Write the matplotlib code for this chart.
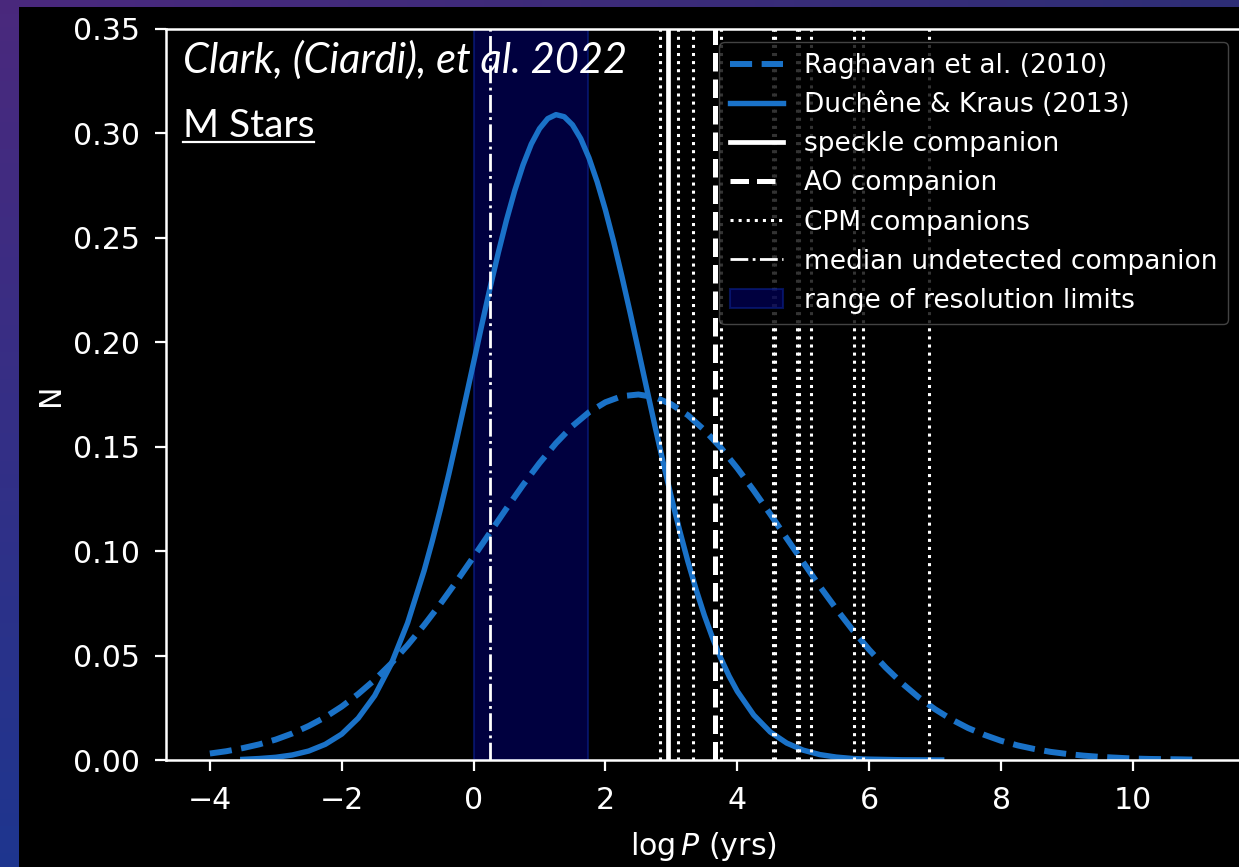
import numpy as np
import matplotlib
matplotlib.use("Agg")
import matplotlib.pyplot as plt
from matplotlib.lines import Line2D
from matplotlib.patches import Rectangle

# log-period distributions, values (log P in years)
raghavan_x = [-4.0, -3.75, -3.5, -3.25, -3.0, -2.75, -2.5, -2.25, -2.0, -1.75,
              -1.5, -1.25, -1.0, -0.75, -0.5, -0.25, 0.0, 0.25, 0.5, 0.75,
              1.0, 1.25, 1.5, 1.75, 2.0, 2.25, 2.5, 2.75, 3.0, 3.25, 3.5,
              3.75, 4.0, 4.25, 4.5, 4.75, 5.0, 5.25, 5.5, 5.75, 6.0, 6.25,
              6.5, 6.75, 7.0, 7.25, 7.5, 7.75, 8.0, 8.25, 8.5, 8.75, 9.0,
              9.25, 9.5, 9.75, 10.0, 10.25, 10.5, 10.75, 10.9]
raghavan_n = [0.0031, 0.0042, 0.0057, 0.0075, 0.0098, 0.0127, 0.0163, 0.0205,
              0.0256, 0.0316, 0.0384, 0.0462, 0.0550, 0.0646, 0.0749, 0.0859,
              0.0973, 0.1089, 0.1205, 0.1317, 0.1422, 0.1517, 0.1599, 0.1665,
              0.1713, 0.1742, 0.1750, 0.1737, 0.1703, 0.1651, 0.1580, 0.1495,
              0.1397, 0.1290, 0.1177, 0.1061, 0.0946, 0.0832, 0.0724, 0.0622,
              0.0528, 0.0443, 0.0367, 0.0300, 0.0243, 0.0194, 0.0153, 0.0120,
              0.0092, 0.0070, 0.0053, 0.0039, 0.0029, 0.0021, 0.0015, 0.0011,
              0.0007, 0.0005, 0.0004, 0.0003, 0.0002]

duchene_x = [-3.5, -3.25, -3.0, -2.75, -2.5, -2.25, -2.0, -1.75, -1.5, -1.25,
             -1.0, -0.75, -0.625, -0.5, -0.375, -0.25, -0.125, 0.0, 0.125,
             0.25, 0.375, 0.5, 0.625, 0.75, 0.875, 1.0, 1.125, 1.25, 1.375,
             1.5, 1.625, 1.75, 1.875, 2.0, 2.125, 2.25, 2.375, 2.5, 2.625,
             2.75, 2.875, 3.0, 3.125, 3.25, 3.375, 3.5, 3.625, 3.75, 3.875,
             4.0, 4.25, 4.5, 4.75, 5.0, 5.25, 5.5, 5.75, 6.0, 6.5, 7.1]
duchene_n = [0.0003, 0.0007, 0.0013, 0.0024, 0.0043, 0.0075, 0.0124, 0.0200,
             0.0308, 0.0459, 0.0657, 0.0907, 0.1050, 0.1205, 0.1370, 0.1544,
             0.1722, 0.1903, 0.2084, 0.2261, 0.2429, 0.2586, 0.2727, 0.2849,
             0.2949, 0.3023, 0.3071, 0.3090, 0.3080, 0.3041, 0.2975, 0.2883,
             0.2768, 0.2633, 0.2481, 0.2315, 0.2141, 0.1961, 0.1780, 0.1600,
             0.1425, 0.1257, 0.1099, 0.0951, 0.0816, 0.0693, 0.0584, 0.0487,
             0.0402, 0.0329, 0.0215, 0.0134, 0.0081, 0.0047, 0.0026, 0.0014,
             0.0007, 0.0004, 0.0001, 0.0000]

speckle_p = 2.95
ao_p = 3.66
cpm_p = [2.83, 3.10, 3.33, 3.76, 4.54, 4.57, 4.91, 4.94, 5.12, 5.77, 5.91, 6.91]
median_undetected = 0.25
res_limits = (0.0, 1.74)

W, H = 1239, 867
fig = plt.figure(figsize=(W / 100, H / 100), dpi=100)

# slide background gradient + black panel
bg = fig.add_axes([0, 0, 1, 1], zorder=-10)
tl = np.array([0.29, 0.16, 0.49])
tr = np.array([0.18, 0.18, 0.46])
bl = np.array([0.12, 0.21, 0.56])
br = np.array([0.10, 0.20, 0.50])
u = np.linspace(0, 1, 64)[None, :, None]
v = np.linspace(0, 1, 64)[:, None, None]
grad = (1 - v) * ((1 - u) * tl + u * tr) + v * ((1 - u) * bl + u * br)
bg.imshow(grad, aspect="auto", extent=[0, 1, 0, 1])
bg.axis("off")
fig.add_artist(Rectangle((19 / W, 0), 1, (H - 7) / H, transform=fig.transFigure,
                         facecolor="black", edgecolor="none", zorder=-5))

ax = fig.add_axes([165.7 / W, (H - 760) / H, (1241 - 165.7) / W, (760 - 29) / H])
ax.set_facecolor("black")

blue = "#1a72c8"
ax.axvspan(*res_limits, facecolor="#000066", alpha=0.62, edgecolor="#0a1f8a",
           lw=1.5, zorder=1, label="range of resolution limits")
ax.plot(raghavan_x, raghavan_n, ls="--", color=blue, lw=4.3, zorder=2,
        label="Raghavan et al. (2010)")
ax.plot(duchene_x, duchene_n, ls="-", color=blue, lw=3.9, zorder=2,
        label="Duchêne & Kraus (2013)")
ax.axvline(speckle_p, color="white", lw=3.4, zorder=3, label="speckle companion")
ax.axvline(ao_p, color="white", lw=3.6, ls="--", zorder=3, label="AO companion")
for i, p in enumerate(cpm_p):
    ax.axvline(p, color="white", lw=2.2, ls=":", zorder=3,
               label="CPM companions" if i == 0 else None)
ax.axvline(median_undetected, color="white", lw=2.0, ls="-.", zorder=3,
           label="median undetected companion")

ax.set_xlim(-4.67, 11.64)
ax.set_ylim(0, 0.35)
ax.set_xticks([-4, -2, 0, 2, 4, 6, 8, 10])
ax.set_yticks(np.arange(0, 0.351, 0.05))
ax.yaxis.set_major_formatter(matplotlib.ticker.FormatStrFormatter("%.2f"))
ax.tick_params(colors="white", labelsize=21.6, length=8, width=1.6, pad=10.5)
for s in ax.spines.values():
    s.set_color("white")
    s.set_linewidth(1.8)
ax.set_xlabel(r"$\log P$ (yrs)", color="white", fontsize=21.6, labelpad=11)
ax.set_ylabel("N", color="white", fontsize=21.6, labelpad=6)

order = ["Raghavan et al. (2010)", "Duchêne & Kraus (2013)", "speckle companion",
         "AO companion", "CPM companions", "median undetected companion",
         "range of resolution limits"]
handles, labels = ax.get_legend_handles_labels()
hmap = dict(zip(labels, handles))
leg = ax.legend([hmap[k] for k in order], order, loc="upper right", fontsize=19,
                facecolor="black", edgecolor="#555555", framealpha=0.8,
                labelcolor="white")
leg.set_zorder(5)

# slide annotations
fig.text(183 / W, (H - 73) / H, "Clark, (Ciardi), et al. 2022", family="Lato",
         style="italic", fontsize=30, color="white", va="baseline")
fig.text(183 / W, (H - 137) / H, "M Stars", family="Lato", fontsize=28,
         color="white", va="baseline")
fig.add_artist(Line2D([183 / W, 314 / W], [(H - 142) / H] * 2,
                      transform=fig.transFigure, color="white", lw=1.6))

fig.savefig("out.png", dpi=100, facecolor=fig.get_facecolor())
